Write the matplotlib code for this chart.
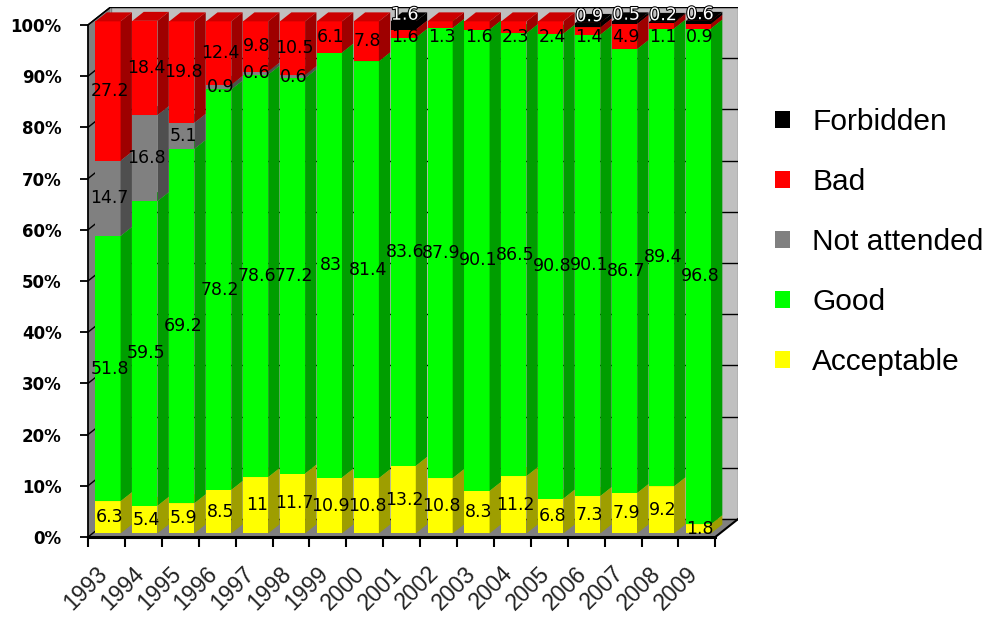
import numpy as np
import matplotlib
matplotlib.use('Agg')
import matplotlib.pyplot as plt
from matplotlib.patches import Polygon, Patch
from matplotlib.collections import PolyCollection
from matplotlib.colors import to_rgb
from matplotlib.transforms import ScaledTranslation
import matplotlib.patheffects as pe

years = [str(y) for y in range(1993, 2010)]
acceptable = [6.3, 5.4, 5.9, 8.5, 11, 11.7, 10.9, 10.8, 13.2, 10.8, 8.3, 11.2, 6.8, 7.3, 7.9, 9.2, 1.8]
good = [51.8, 59.5, 69.2, 78.2, 78.6, 77.2, 83, 81.4, 83.6, 87.9, 90.1, 86.5, 90.8, 90.1, 86.7, 89.4, 96.8]
not_attended = [14.7, 16.8, 5.1, 0.9, 0.6, 0.6, 0, 0, 0, 0, 0, 0, 0, 0, 0, 0, 0]
bad = [27.2, 18.4, 19.8, 12.4, 9.8, 10.5, 6.1, 7.8, 1.6, 1.3, 1.6, 2.3, 2.4, 1.4, 4.9, 1.1, 0.9]
forbidden = [0, 0, 0, 0, 0, 0, 0, 0, 1.6, 0, 0, 0, 0, 0.9, 0.5, 0.2, 0.6]

names = ['Acceptable', 'Good', 'Not attended', 'Bad', 'Forbidden']
values = [acceptable, good, not_attended, bad, forbidden]
colors = ['#ffff00', '#00ff00', '#808080', '#ff0000', '#000000']

# fake 3d: depth offset of the back wall, in data units
XD, YD = 0.615, 3.5
F0 = 0.2      # depth of bar front face (fraction)
FD = 0.5      # bar thickness (fraction)
PAD, W = 0.08, 0.68

n = len(years)
idx = np.arange(n)

fig = plt.figure(figsize=(9.87, 6.17), dpi=100)
ax = fig.add_axes([88 / 987, 80 / 617, 650 / 987, 530 / 617])
ax.set_xlim(0, n + XD)
ax.set_ylim(0, 100 + YD)
ax.set_facecolor('none')

# walls and floor
ax.add_patch(Polygon([(XD, YD), (n + XD, YD), (n + XD, 100 + YD), (XD, 100 + YD)],
                     facecolor='#c0c0c0', edgecolor='#808080', lw=1, zorder=0.5))
ax.add_patch(Polygon([(0, 0), (XD, YD), (XD, 100 + YD), (0, 100)],
                     facecolor='#808080', edgecolor='none', zorder=0.5))
ax.add_patch(Polygon([(0, 0), (n, 0), (n + XD, YD), (XD, YD)],
                     facecolor='#808080', edgecolor='none', zorder=0.5))
for v in range(0, 101, 10):
    ax.plot([XD, n + XD], [v + YD, v + YD], color='black', lw=1, zorder=0.8)
    ax.plot([0, XD], [v, v + YD], color='black', lw=1, zorder=0.8)
ax.plot([n, n + XD], [0, YD], color='black', lw=1.5, zorder=0.8)
ax.plot([0, XD], [100, 100 + YD], color='black', lw=1, zorder=0.8)

# bars
fx, fy = F0 * XD, F0 * YD
sx, sy = FD * XD, FD * YD
left = idx + fx + PAD
bottom = np.zeros(n)
for name, vals, c in zip(names, values, colors):
    vals = np.array(vals, dtype=float)
    base = np.array(to_rgb(c))
    ax.bar(left, vals, width=W, bottom=bottom + fy, align='edge',
           color=c, edgecolor='none', zorder=2)
    sides, tops = [], []
    for i in idx:
        if vals[i] <= 0:
            continue
        x1 = left[i] + W
        b = bottom[i] + fy
        t = b + vals[i]
        sides.append([(x1, b), (x1 + sx, b + sy), (x1 + sx, t + sy), (x1, t)])
        tops.append([(left[i], t), (x1, t), (x1 + sx, t + sy), (left[i] + sx, t + sy)])
    ax.add_collection(PolyCollection(sides, facecolors=[base * 0.62], edgecolors='none', zorder=2))
    ax.add_collection(PolyCollection(tops, facecolors=[base * 0.8], edgecolors='none', zorder=2))

    for i in idx:
        if vals[i] <= 0:
            continue
        mid = bottom[i] + vals[i] / 2
        lab = f'{vals[i]:g}'
        if name == 'Forbidden':
            ax.text(left[i] + W / 2 + 0.04, bottom[i] + vals[i] + 1.3 + fy, lab,
                    ha='center', va='center', fontsize=12.5, color='white', zorder=5,
                    path_effects=[pe.withStroke(linewidth=1.5, foreground='black')])
        else:
            ax.text(left[i] + W / 2 + 0.04, min(mid, 97) + fy, lab,
                    ha='center', va='center', fontsize=12.5, color='black', zorder=5)
    bottom = bottom + vals

# axes
for s in ['top', 'right']:
    ax.spines[s].set_visible(False)
ax.spines['left'].set_bounds(0, 100)
ax.spines['left'].set_linewidth(1.3)
ax.spines['bottom'].set_bounds(0, n)
ax.spines['bottom'].set_linewidth(2.2)

yt = list(range(0, 101, 10))
ax.set_yticks(yt, labels=[f'{v}%' for v in yt])
ax.tick_params(axis='y', direction='out', length=6, width=1.3, pad=13, labelsize=12)
for t in ax.get_yticklabels():
    t.set_fontweight('bold')

ax.set_xticks(np.arange(n + 1), labels=[''] * (n + 1))
ax.tick_params(axis='x', which='major', direction='out', length=7, width=1.5)

# rotated year labels
off = ScaledTranslation(-3 / 100, -33 / 100, fig.dpi_scale_trans)
for i, yr in zip(idx, years):
    ax.text(i + 0.5, 0, yr, transform=ax.transData + off, rotation=45,
            rotation_mode='anchor', ha='right', va='center', fontsize=16.5,
            family='Liberation Sans', color='#222222', clip_on=False)

handles = [Patch(facecolor=c, edgecolor='none', label=nm)
           for nm, c in zip(names[::-1], colors[::-1])]
fig.legend(handles=handles, loc='center left', bbox_to_anchor=(775 / 987, 1 - 242 / 617),
           frameon=False, prop={'family': 'Liberation Sans', 'size': 21.5},
           handlelength=0.5, handleheight=0.5, handletextpad=0.74, labelspacing=1.07,
           borderpad=0, borderaxespad=0)

fig.savefig('out.png', dpi=100)
